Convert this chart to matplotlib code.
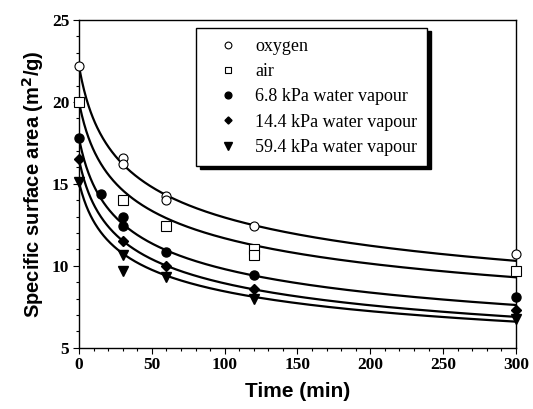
import numpy as np
import matplotlib
matplotlib.use("Agg")
import matplotlib.pyplot as plt
from matplotlib.ticker import MultipleLocator

# Data points
t_oxygen = [0, 30, 30, 60, 60, 120, 300]
s_oxygen = [22.2, 16.6, 16.2, 14.25, 14.0, 12.4, 10.7]

t_air = [0, 30, 60, 120, 120, 300]
s_air = [20.0, 14.0, 12.4, 11.05, 10.65, 9.65]

t_w68 = [0, 15, 30, 30, 60, 120, 300]
s_w68 = [17.8, 14.35, 13.0, 12.4, 10.85, 9.45, 8.1]

t_w144 = [0, 30, 60, 120, 300]
s_w144 = [16.5, 11.5, 10.0, 8.55, 7.3]

t_w594 = [0, 30, 30, 60, 120, 300]
s_w594 = [15.1, 10.65, 9.7, 9.3, 7.95, 6.75]

# Fitted curves (curve height at these times)
t_curve = [0, 30, 60, 120, 300]
c_oxygen = [22.2, 16.4, 14.1, 12.45, 10.35]
c_air = [20.0, 14.6, 12.9, 11.3, 9.27]
c_w68 = [17.8, 12.6, 10.85, 9.45, 7.6]
c_w144 = [16.5, 11.5, 10.0, 8.6, 6.86]
c_w594 = [15.1, 10.76, 9.44, 8.05, 6.6]

labels = ["oxygen", "air", "6.8 kPa water vapour",
          "14.4 kPa water vapour", "59.4 kPa water vapour"]

series = [(t_oxygen, s_oxygen), (t_air, s_air), (t_w68, s_w68),
          (t_w144, s_w144), (t_w594, s_w594)]
curves = [c_oxygen, c_air, c_w68, c_w144, c_w594]
markers = [dict(marker='o', mfc='white', mec='black', ms=6.5, mew=0.8),
           dict(marker='s', mfc='white', mec='black', ms=6.5, mew=0.8),
           dict(marker='o', mfc='black', mec='black', ms=6.5),
           dict(marker='D', mfc='black', mec='black', ms=4.8),
           dict(marker='v', mfc='black', mec='black', ms=7)]


def fit_shared(t, curves):
    """Smooth power-law decay S = a (1 + t/b)^-c through the read curve heights."""
    t = np.asarray(t, float)
    best = None
    for b in np.linspace(1, 60, 1181):
        total = 0.0
        params = []
        X = np.column_stack([np.ones_like(t), -np.log1p(t / b)])
        for s in curves:
            y = np.log(np.asarray(s, float))
            coef, *_ = np.linalg.lstsq(X, y, rcond=None)
            total += np.sum((X @ coef - y) ** 2)
            params.append((np.exp(coef[0]), b, coef[1]))
        if best is None or total < best[0]:
            best = (total, params)
    return best[1]


fig = plt.figure(figsize=(5.33, 4.09), dpi=100)
ax = fig.add_axes([0.1482, 0.150, 0.8198, 0.801])

tt = np.linspace(0, 300, 600)
handles = []
fits = fit_shared(t_curve, curves)
for (t, s), mk, lab, (a, b, c) in zip(series, markers, labels, fits):
    ax.plot(tt, a * (1 + tt / b) ** (-c), color='black', lw=1.6, zorder=2)
    h, = ax.plot(t, s, ls='none', label=lab, zorder=3, clip_on=False, **mk)
    handles.append(h)

ax.set_xlim(0, 300)
ax.set_ylim(5, 25)
ax.xaxis.set_major_locator(MultipleLocator(50))
ax.xaxis.set_minor_locator(MultipleLocator(10))
ax.yaxis.set_major_locator(MultipleLocator(5))
ax.yaxis.set_minor_locator(MultipleLocator(1))
ax.tick_params(which='both', direction='out', top=False, right=False, width=0.8)
ax.tick_params(which='major', length=4.5, pad=2.5)
ax.tick_params(which='minor', length=2.5)
for sp in ax.spines.values():
    sp.set_linewidth(1.0)

for lbl in ax.get_xticklabels() + ax.get_yticklabels():
    lbl.set_fontfamily('Liberation Serif')
    lbl.set_fontweight('bold')
    lbl.set_fontsize(12.5)

ax.set_xlabel("Time (min)", fontfamily='Liberation Sans', fontweight='bold',
              fontsize=15, labelpad=6)
ax.set_ylabel("Specific surface area (m$^\\mathbf{2}$/g)", fontfamily='Liberation Sans',
              fontweight='bold', fontsize=14.5, labelpad=4)

leg = ax.legend(handles=handles, loc='upper left', bbox_to_anchor=(0.268, 0.976),
                borderaxespad=0, frameon=True, fancybox=False,
                shadow={'color': 'black', 'ox': 2.5, 'oy': -2.5, 'alpha': 1},
                prop={'family': 'Liberation Serif', 'size': 13},
                handletextpad=0.32, borderpad=0.55, labelspacing=0.46,
                handlelength=2.4, markerscale=0.75)
leg.get_frame().set_edgecolor('black')
leg.get_frame().set_linewidth(1.0)
leg.get_frame().set_alpha(1)

fig.savefig("out.png", dpi=100)
